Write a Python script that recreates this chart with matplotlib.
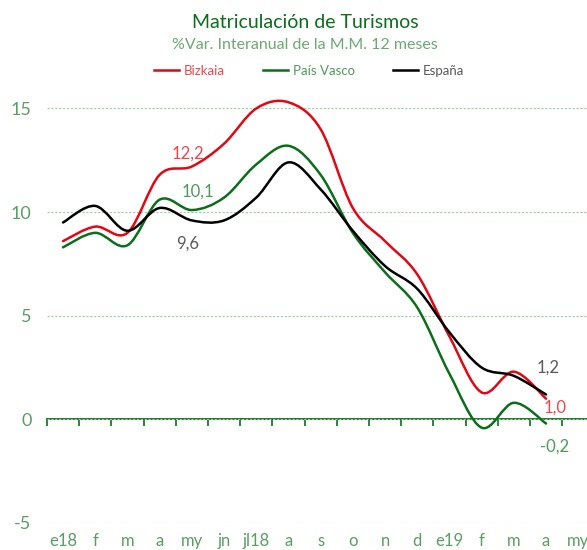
import numpy as np
import matplotlib.pyplot as plt
from matplotlib.path import Path
from matplotlib.patches import PathPatch
from matplotlib.lines import Line2D

plt.rcParams['font.family'] = ['Lato', 'DejaVu Sans']
plt.rcParams['axes.unicode_minus'] = False

months = ['e18', 'f', 'm', 'a', 'my', 'jn', 'jl18', 'a', 's', 'o', 'n', 'd',
          'e19', 'f', 'm', 'a', 'my']
bizkaia = [8.6, 9.3, 9.0, 11.8, 12.2, 13.3, 15.0, 15.3, 14.0, 10.2, 8.6, 7.0,
           4.0, 1.3, 2.3, 1.0]
pais_vasco = [8.3, 9.0, 8.4, 10.6, 10.1, 10.7, 12.3, 13.2, 11.8, 9.0, 7.1, 5.4,
              2.2, -0.4, 0.8, -0.2]
espana = [9.5, 10.3, 9.1, 10.2, 9.6, 9.6, 10.7, 12.4, 11.1, 9.1, 7.4, 6.3,
          4.2, 2.5, 2.1, 1.2]

red = '#e30613'
green = '#0b6e1a'
tick_green = '#5b9e62'


def smooth_path(vals):
    # excel-like smoothed line: cubic bezier segments through each point
    y = np.asarray(vals, dtype=float)
    x = np.arange(len(y), dtype=float)
    pts = np.column_stack([x, y])
    prev = np.vstack([pts[:1], pts[:-1]])
    nxt = np.vstack([pts[1:], pts[-1:]])
    tang = (nxt - prev) / 6.0
    verts = [pts[0]]
    codes = [Path.MOVETO]
    for i in range(len(pts) - 1):
        verts += [pts[i] + tang[i], pts[i + 1] - tang[i + 1], pts[i + 1]]
        codes += [Path.CURVE4] * 3
    return Path(verts, codes)


fig = plt.figure(figsize=(5.87, 5.5), dpi=100)
ax = fig.add_axes([0.0799, 0.0491, 0.9326, 0.829])
ymin, ymax = -5, 17
ax.set_xlim(-0.5, 16.5)
ax.set_ylim(ymin, ymax)

for s in ax.spines.values():
    s.set_visible(False)

ax.set_yticks([-5, 0, 5, 10, 15])
ax.yaxis.grid(True, color='#9fcba3', linestyle=(0, (2, 1.5)), linewidth=0.8)
ax.tick_params(axis='y', length=0, pad=11, labelsize=13, labelcolor=tick_green)
ax.set_xticks(range(len(months)))
ax.set_xticklabels(months)
ax.tick_params(axis='x', length=0, pad=7, labelsize=12, labelcolor=tick_green)

# zero axis line with category tick marks
sec = ax.secondary_xaxis((0 - ymin) / (ymax - ymin))
sec.spines['bottom'].set_color(green)
sec.spines['bottom'].set_linewidth(1.3)
sec.set_xticks(np.arange(-0.5, 16, 1.0))
sec.set_xticklabels([])
sec.tick_params(axis='x', direction='out', length=5, width=1.2, color=green)

for vals, col in [(bizkaia, red), (pais_vasco, green), (espana, 'black')]:
    ax.add_patch(PathPatch(smooth_path(vals), facecolor='none', edgecolor=col,
                           linewidth=1.8, capstyle='round', zorder=3))

lab_red = '#f0474d'
lab_green = '#4f9a58'
lab_grey = '#595959'
ax.annotate('12,2', (4, bizkaia[4]), xytext=(-3, 9), textcoords='offset points',
            ha='center', va='center', fontsize=12, color=lab_red)
ax.annotate('10,1', (4, pais_vasco[4]), xytext=(4.5, 13.5), textcoords='offset points',
            ha='center', va='center', fontsize=12, color=lab_green)
ax.annotate('9,6', (4, espana[4]), xytext=(-3, -16.5), textcoords='offset points',
            ha='center', va='center', fontsize=12, color=lab_grey)
ax.annotate('1,2', (15, espana[15]), xytext=(1.5, 19), textcoords='offset points',
            ha='center', va='center', fontsize=12, color=lab_grey)
ax.annotate('1,0', (15, bizkaia[15]), xytext=(6.5, -6.7), textcoords='offset points',
            ha='center', va='center', fontsize=12, color=lab_red)
ax.annotate('-0,2', (15, pais_vasco[15]), xytext=(6.5, -16.8), textcoords='offset points',
            ha='center', va='center', fontsize=12, color=lab_green)

fig.text(0.52, 0.96, 'Matriculación de Turismos', ha='center', va='center',
         fontsize=14, color='#0b6e1a')
fig.text(0.52, 0.918, '%Var. Interanual de la M.M. 12 meses', ha='center', va='center',
         fontsize=11.5, color='#6aaa70')

handles = [Line2D([], [], color=red, lw=1.8),
           Line2D([], [], color=green, lw=1.8),
           Line2D([], [], color='black', lw=1.8)]
leg = fig.legend(handles, ['Bizkaia', 'País Vasco', 'España'], ncol=3,
                 loc='center', bbox_to_anchor=(0.527, 1 - 71 / 550), frameon=False,
                 fontsize=9.5, handlelength=1.9, handletextpad=0.35, columnspacing=2.9)
for txt, col in zip(leg.get_texts(), [lab_red, lab_green, lab_grey]):
    txt.set_color(col)

fig.savefig('out.png', dpi=100)
